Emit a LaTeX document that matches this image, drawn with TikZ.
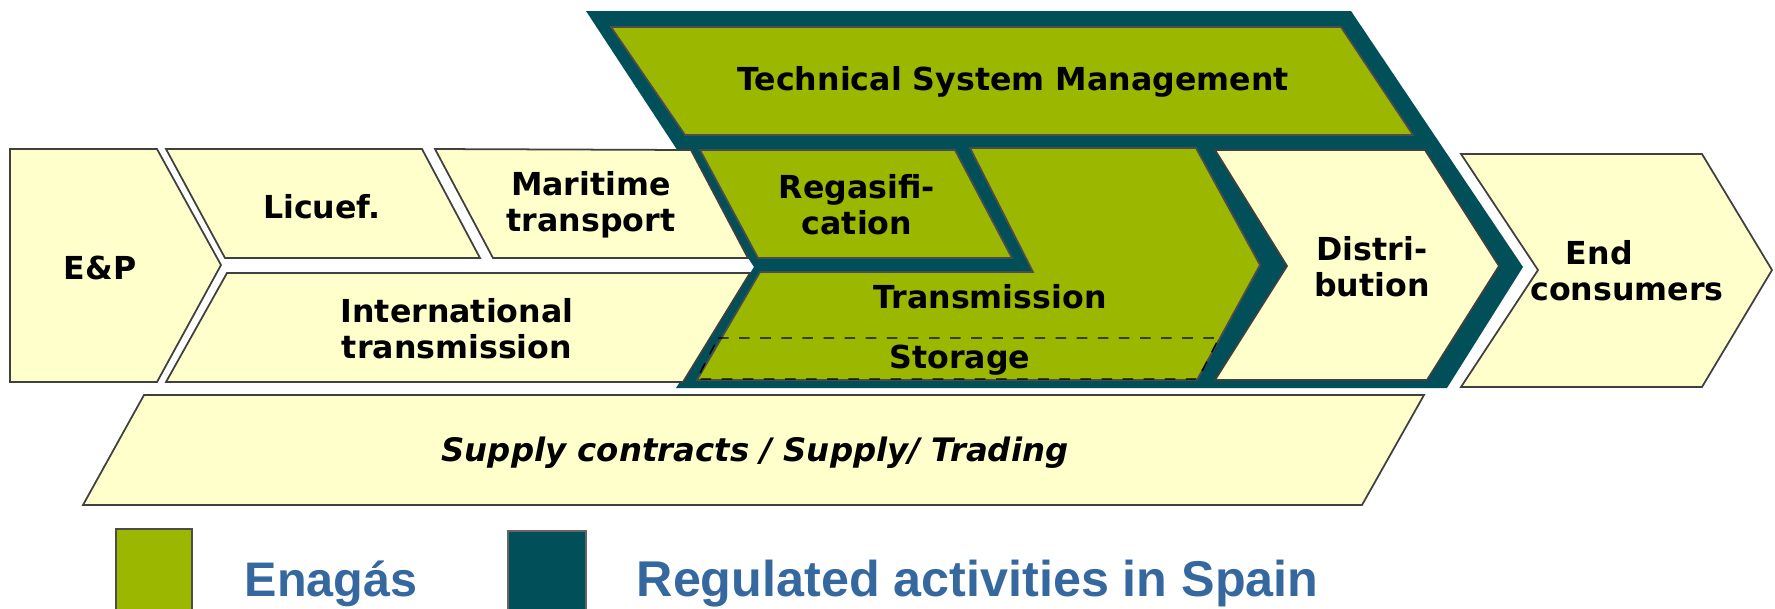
\documentclass[tikz,border=0pt]{standalone}
\usepackage{fontspec}
\setmainfont{DejaVu Sans}
\newfontfamily\legendfont{Liberation Sans}
\usepackage{tikz, xcolor}

\definecolor{enagasgreen}{RGB}{155,183,0}
\definecolor{regulated}{RGB}{1,79,88}
\definecolor{paleyellow}{RGB}{255,255,204}
\definecolor{legendblue}{RGB}{54,104,160}

\begin{document}
\begin{tikzpicture}[x=0.01cm, y=-0.01cm,
    pale/.style={fill=paleyellow, draw=black!75, line width=0.5pt},
    greenbox/.style={fill=enagasgreen, draw=black!70, line width=0.5pt},
    txt/.style={font=\bfseries\fontsize{9}{10.2}\selectfont, align=center},
    legendtxt/.style={font=\legendfont\bfseries\fontsize{13.8}{16}\selectfont, text=legendblue, anchor=base west, inner sep=0pt}]

    \useasboundingbox (0, 0) rectangle (1775, 608);

    \fill [regulated] (586, 11) -- (1351, 11) -- (1523, 267) -- (1447, 388) -- (676, 388) -- (754, 267) -- cycle;

    \draw [pale] (10, 149) -- (157, 149) -- (221, 265) -- (157, 382) -- (10, 382) -- cycle;
    \node [txt] (ep) at (100, 268) {E\&P};

    \draw [pale] (166, 149) -- (422, 149) -- (480, 258) -- (225, 258) -- cycle;
    \node [txt] (licuef) at (322, 207) {Licuef.};

    \draw [pale] (435, 149) -- (691, 150) -- (748, 258) -- (493, 258) -- cycle;
    \node [txt] (maritime) at (591, 205) {Maritime\\transport};

    \draw [pale] (227, 273) -- (750, 273) -- (683, 382) -- (166, 382) -- cycle;
    \node [txt] (intl) at (457, 329) {International\\transmission};

    \draw [greenbox] (611, 27) -- (1341, 27) -- (1413, 135) -- (685, 135) -- cycle;
    \node [txt] (tsm) at (1013, 82) {Technical System Management};

    \draw [greenbox] (700, 150) -- (955, 150) -- (1012, 258) -- (758, 258) -- cycle;
    \node [txt] (regas) at (857, 205) {Regasifi-\\cation};

    \draw [greenbox] (970, 148) -- (1196, 148) -- (1260, 265) -- (1197, 380) -- (697, 380) -- (760, 272) -- (1033, 272) -- cycle;
    \node [txt] (trans) at (990, 297) {Transmission};

    \draw [dashed, thin] (718, 338) -- (1219, 338) -- (1198, 379) -- (697, 379) -- cycle;
    \node [txt] (storage) at (960, 360) {Storage};

    \draw [pale] (1215, 150) -- (1425, 150) -- (1499, 266) -- (1427, 380) -- (1215, 380) -- (1287, 266) -- cycle;
    \node [txt] (distrib) at (1372, 267) {Distri-\\bution};

    \draw [pale] (1461, 154) -- (1702, 154) -- (1772, 270) -- (1702, 387) -- (1461, 387) -- (1538, 270) -- cycle;
    \node [txt] (endcons) at (1627, 271) {End\hspace*{1.75em}\\consumers};

    \draw [pale] (144, 395) -- (1424, 395) -- (1362, 505) -- (83, 505) -- cycle;
    \node [txt, font=\bfseries\itshape\fontsize{9.2}{10.2}\selectfont] (supply) at (755, 453) {Supply contracts / Supply/ Trading};

    \draw [greenbox] (116, 529) rectangle (192, 620);
    \node [legendtxt] (enagas) at (244, 596) {Enagás};

    \draw [fill=regulated, draw=black!60, line width=0.5pt] (508, 531) rectangle (586, 620);
    \node [legendtxt, font=\legendfont\bfseries\fontsize{14.3}{16}\selectfont] (regact) at (636, 596) {Regulated activities in Spain};

  \end{tikzpicture}
\end{document}
